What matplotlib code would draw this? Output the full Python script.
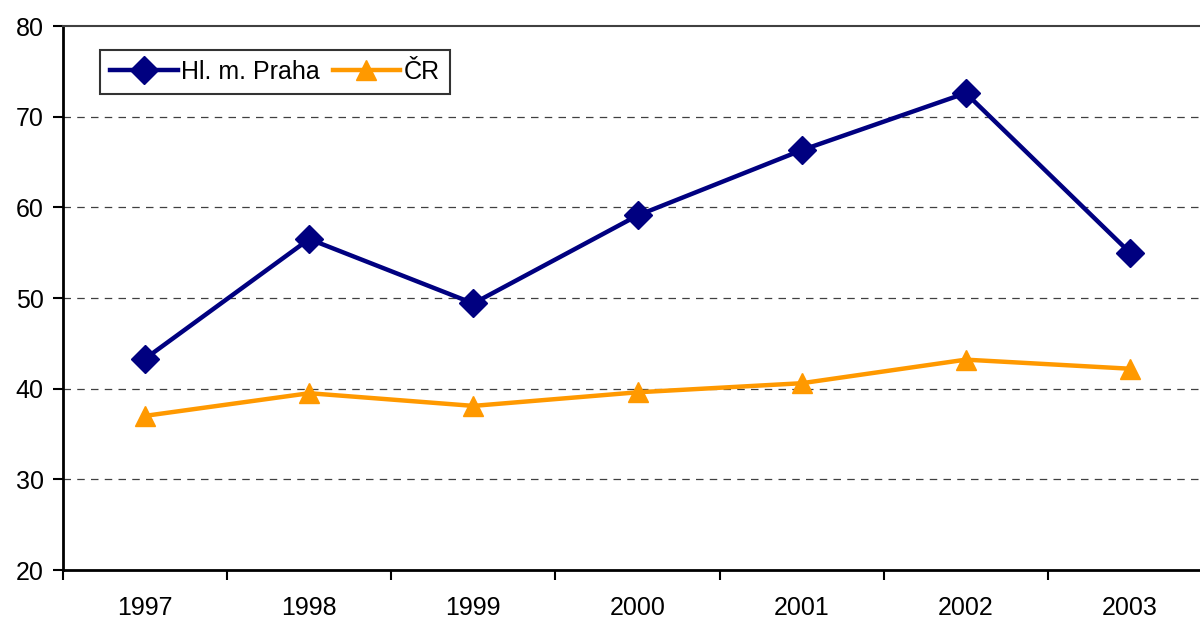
import matplotlib
matplotlib.use("Agg")
import matplotlib.pyplot as plt

years = ["1997", "1998", "1999", "2000", "2001", "2002", "2003"]
praha = [43.3, 56.5, 49.4, 59.1, 66.3, 72.6, 55.0]
cr = [37.0, 39.5, 38.1, 39.6, 40.6, 43.2, 42.2]

plt.rcParams['font.family'] = ['Liberation Sans', 'DejaVu Sans']

W, H = 1200, 619
fig = plt.figure(figsize=(W / 100, H / 100), dpi=100)
left, right, top, bottom = 63, 1212, 26, 570
ax = fig.add_axes([left / W, 1 - bottom / H, (right - left) / W, (bottom - top) / H])

x = list(range(len(years)))
ax.plot(x, praha, color='#000080', lw=3.2, marker='D', markersize=14, label='Hl. m. Praha', zorder=3)
ax.plot(x, cr, color='#FF9900', lw=3.2, marker='^', markersize=15, label='ČR', zorder=3)

ax.set_xlim(-0.5, 6.5)
ax.set_ylim(20, 80)
ax.set_yticks(range(20, 81, 10))
for yv in range(30, 80, 10):
    ax.axhline(yv, color='#404040', lw=0.9, ls=(0, (6, 5)), zorder=1)

ax.set_xticks([i + 0.5 for i in range(-1, 7)], minor=False)
ax.set_xticklabels([])
ax.set_xticks(x, minor=True)
ax.set_xticklabels(years, minor=True)
ax.tick_params(axis='x', which='major', direction='out', length=7, width=1.5, color='black')
ax.tick_params(axis='x', which='minor', length=0, pad=19, labelsize=18)
ax.tick_params(axis='y', direction='out', length=7, width=1.5, labelsize=18, pad=7)

for s in ['left', 'bottom']:
    ax.spines[s].set_linewidth(2)
    ax.spines[s].set_color('black')
ax.spines['top'].set_color('#404040')
ax.spines['top'].set_linewidth(1.5)
ax.spines['right'].set_visible(False)

leg = ax.legend(loc='upper left', bbox_to_anchor=((100 - left) / (right - left), 1 - (50 - top) / (bottom - top)),
                ncol=2, frameon=True, fancybox=False, edgecolor='black', fontsize=18,
                handlelength=2.7, columnspacing=0.5, handletextpad=0.15, borderpad=0.4, borderaxespad=0)
leg.get_frame().set_linewidth(1.5)

fig.savefig('out.png', dpi=100)
